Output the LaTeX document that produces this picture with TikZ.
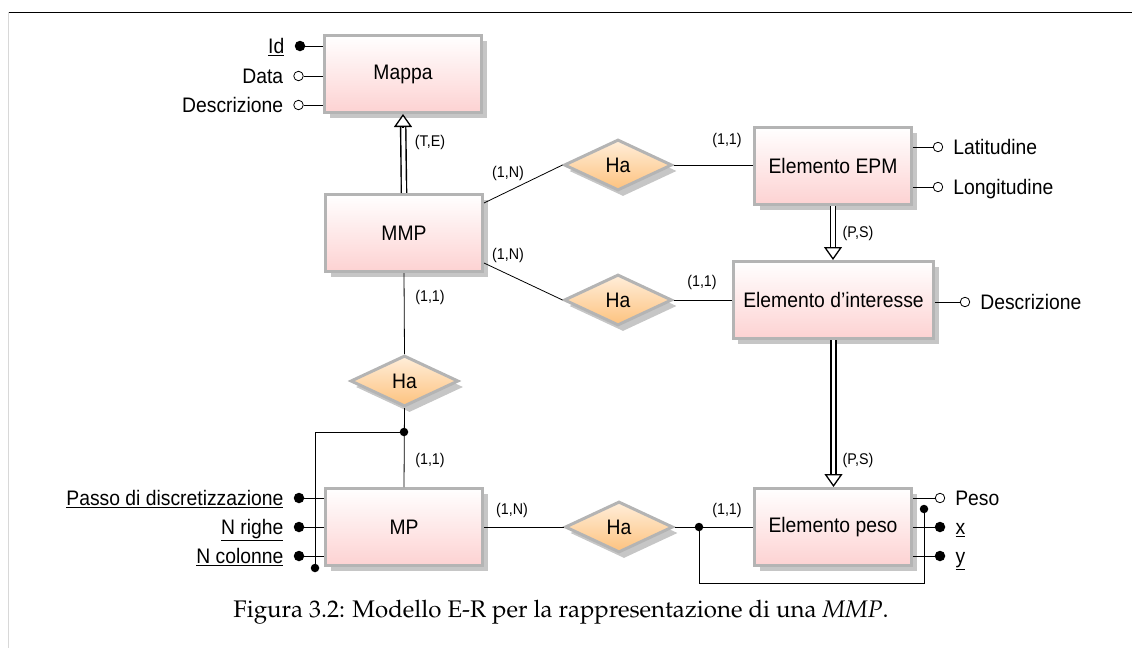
\documentclass[tikz,border=0pt]{standalone}
\usepackage[T1,TU]{fontenc}
\usepackage{fontspec}
\setmainfont{Liberation Sans}
\newfontfamily\erfont[FakeStretch=0.92]{Liberation Sans}
\usetikzlibrary{shapes.geometric,shadows,arrows.meta}

\definecolor{boxgray}{RGB}{180,180,180}
\definecolor{shadowgray}{RGB}{198,198,198}
\definecolor{entpink}{RGB}{253,210,210}
\definecolor{reltop}{RGB}{255,238,218}
\definecolor{relbot}{RGB}{253,194,126}
\definecolor{framegray}{RGB}{216,216,216}

\begin{document}
\begin{tikzpicture}[x=1pt, y=-1pt,
  label distance=10pt,
  ent/.style={rectangle, draw=boxgray, line width=3pt,
    minimum width=157pt, minimum height=77pt, inner xsep=10pt,
    top color=white, bottom color=entpink,
    font=\erfont\fontsize{21}{24}\selectfont,
    drop shadow={shadow xshift=5pt, shadow yshift=-5pt, fill=shadowgray, opacity=1}},
  rel/.style={diamond, draw=boxgray, line width=3pt,
    minimum width=108pt, minimum height=51pt, inner sep=0pt,
    top color=reltop, bottom color=relbot,
    font=\erfont\fontsize{21}{24}\selectfont,
    drop shadow={shadow xshift=5pt, shadow yshift=-6pt, fill=shadowgray, opacity=1}},
  conn/.style={line width=0.8pt},
  attrkey/.style={circle, fill=black, inner sep=0pt, minimum size=10.5pt},
  attropt/.style={circle, draw=black, fill=white, line width=0.8pt, inner sep=0pt, minimum size=9.5pt},
  junction/.style={circle, fill=black, inner sep=0pt, minimum size=8.5pt},
  card/.style={font=\erfont\fontsize{15.5}{18}\selectfont, inner sep=0pt},
  lbl/.style={font=\erfont\fontsize{21}{24}\selectfont, inner sep=0pt, text height=15pt, text depth=0pt},
  gshaft/.style={line width=1.4pt, double=white, double distance=3.8pt, shorten >=12pt},
  gtip/.style={line width=1.3pt, -{Triangle[length=13pt, width=18pt, fill=white]}}
]
\useasboundingbox (0,0) rectangle (1132,648);

% page frame
\draw[line width=1.2pt] (8,12.3) coordinate (ftl) -- (1132,12.3) coordinate (ftr);
\draw[framegray, line width=1.2pt] (8.3,12.3) coordinate (fl1) -- (8.3,648) coordinate (fl2);

% entities
\node[ent] (mappa) at (403,74) {Mappa};
\node[ent] (mmp)   at (404,233) {MMP};
\node[ent] (epm)   at (833,166) {Elemento EPM};
\node[ent] (int)   at (833.5,300) {Elemento d’interesse};
\node[ent] (mp)    at (404,527) {MP};
\node[ent] (peso)  at (833,527) {Elemento peso};

% relationships
\node[rel] (r1) at (618,165) {Ha};
\node[rel] (r2) at (618,300) {Ha};
\node[rel] (r3) at (404.5,381) {Ha};
\node[rel] (r4) at (619,527) {Ha};

% relationship links
\draw[conn] ([yshift=30pt]mmp.east) -- (r1.west);
\draw[conn] (r1.east) -- (epm.west |- r1.east);
\draw[conn] ([yshift=-30pt]mmp.east) -- (r2.west);
\draw[conn] (r2.east) -- (int.west |- r2.east);
\draw[conn] (mmp.south) -- (r3.north);
\draw[conn] (r3.south) -- (mp.north);
\draw[conn] (mp.east) -- (r4.west);
\draw[conn] (r4.east) -- (peso.west);

% cardinalities
\node[card] (c1) at (508,173) {(1,N)};
\node[card] (c2) at (727,140) {(1,1)};
\node[card] (c3) at (508,255) {(1,N)};
\node[card] (c4) at (702,282) {(1,1)};
\node[card] (c5) at (430,297) {(1,1)};
\node[card] (c6) at (430,460) {(1,1)};
\node[card] (c7) at (512,510) {(1,N)};
\node[card] (c8) at (727,510) {(1,1)};

% generalizations
\draw[gshaft] (mmp.north) -- (mappa.south);
\draw[gtip] ([yshift=-13pt]mappa.south) -- (mappa.south);
\node[card] (g1) at (430,142) {(T,E)};

\draw[gshaft] (epm.south) -- (epm.south |- int.north);
\draw[gtip] ([yshift=13pt]epm.south |- int.north) -- (epm.south |- int.north);
\node[card] (g2) at (858,233) {(P,S)};

\draw[gshaft] (int.south) -- (int.south |- peso.north);
\draw[gtip] ([yshift=13pt]int.south |- peso.north) -- (int.south |- peso.north);
\node[card] (g3) at (858,460) {(P,S)};

% attributes of Mappa
\node[attrkey, label={[lbl]left:\underline{Id}}] (aid) at (300,46) {};
\node[attropt, label={[lbl]left:Data}] (adata) at (298.5,76) {};
\node[attropt, label={[lbl]left:Descrizione}] (adesc) at (298.5,105) {};
\draw[conn] (aid) -- (aid -| mappa.west);
\draw[conn] (adata) -- (adata -| mappa.west);
\draw[conn] (adesc) -- (adesc -| mappa.west);

% attributes of Elemento EPM
\node[attropt, label={[lbl]right:Latitudine}] (alat) at (938,147) {};
\node[attropt, label={[lbl]right:Longitudine}] (alon) at (938,187) {};
\draw[conn] (alat) -- (alat -| epm.east);
\draw[conn] (alon) -- (alon -| epm.east);

% attribute of Elemento d'interesse
\node[attropt, label={[lbl]right:Descrizione}] (aidesc) at (965,302) {};
\draw[conn] (aidesc) -- (aidesc -| int.east);

% attributes of MP
\node[attrkey, label={[lbl]left:\underline{Passo di discretizzazione}}] (apasso) at (299,498) {};
\node[attrkey, label={[lbl]left:\underline{N righe}}] (arighe) at (299,527) {};
\node[attrkey, label={[lbl]left:\underline{N colonne}}] (acol) at (299,556) {};
\draw[conn] (apasso) -- (apasso -| mp.west);
\draw[conn] (arighe) -- (arighe -| mp.west);
\draw[conn] (acol) -- (acol -| mp.west);

% attributes of Elemento peso
\node[attropt, label={[lbl]right:Peso}] (apeso) at (940,498) {};
\node[attrkey, label={[lbl]right:\underline{x}}] (ax) at (940,527) {};
\node[attrkey, label={[lbl]right:\underline{y}}] (ay) at (940,556) {};
\draw[conn] (apeso) -- (apeso -| peso.east);
\draw[conn] (ax) -- (ax -| peso.east);
\draw[conn] (ay) -- (ay -| peso.east);

% external identifier of MP
\node[junction] (m1) at (404,432) {};
\node[junction] (m2) at (315,568) {};
\draw[conn] (m1.center) -| (m2.center);

% external identifier of Elemento peso
\node[junction] (k1) at (699,527) {};
\node[junction] (k2) at (924,509) {};
\coordinate (kb) at (800,583);
\draw[conn] (k1.center) -- (k1.center |- kb) -- (k2.center |- kb) -- (k2.center);

% caption
\node (cap) at (561,612) {\fontencoding{T1}\fontfamily{ppl}\fontsize{24}{28}\selectfont Figura 3.2: Modello E-R per la rappresentazione di una \textit{MMP}.};
\end{tikzpicture}
\end{document}
